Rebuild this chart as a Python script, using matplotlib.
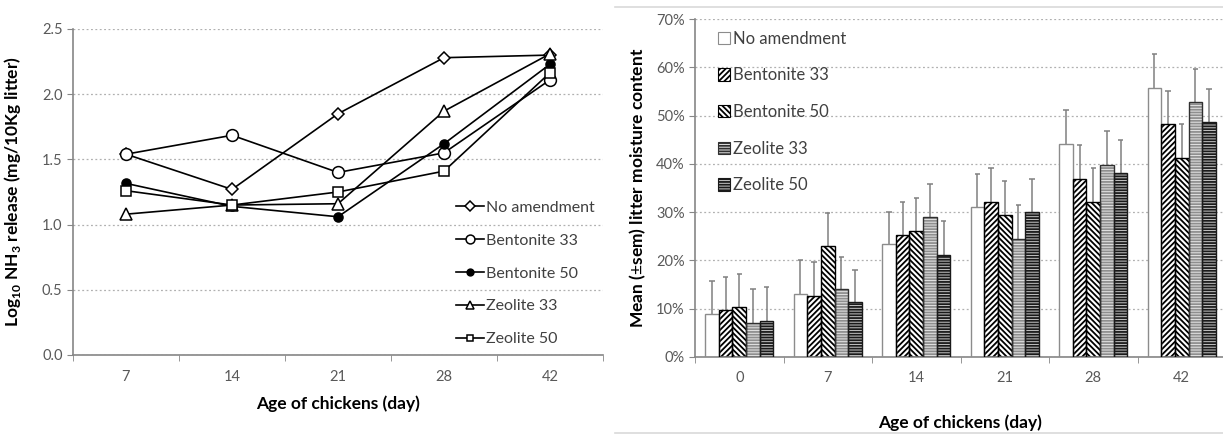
import numpy as np
import matplotlib
matplotlib.use('Agg')
import matplotlib.pyplot as plt
from matplotlib.lines import Line2D
from matplotlib.patches import Patch

plt.rcParams['font.family'] = ['Lato', 'DejaVu Sans']
plt.rcParams['mathtext.fontset'] = 'custom'
plt.rcParams['mathtext.rm'] = 'Lato'
plt.rcParams['mathtext.bf'] = 'Lato:bold'
plt.rcParams['hatch.linewidth'] = 1.3

# left panel: log10 NH3 release
days_nh3 = ['7', '14', '21', '28', '42']
nh3_none = [1.54, 1.27, 1.85, 2.28, 2.30]
nh3_bent33 = [1.54, 1.685, 1.40, 1.55, 2.11]
nh3_bent50 = [1.316, 1.14, 1.06, 1.62, 2.23]
nh3_zeo33 = [1.08, 1.15, 1.16, 1.87, 2.31]
nh3_zeo50 = [1.26, 1.15, 1.25, 1.41, 2.165]

# right panel: litter moisture (%), mean and sem
days_moist = ['0', '7', '14', '21', '28', '42']
moist_none = [9.0, 13.0, 23.3, 31.1, 44.1, 55.7]
moist_bent33 = [9.7, 12.6, 25.3, 32.1, 36.8, 48.2]
moist_bent50 = [10.3, 23.0, 26.1, 29.5, 32.1, 41.3]
moist_zeo33 = [7.1, 14.0, 28.9, 24.5, 39.8, 52.8]
moist_zeo50 = [7.5, 11.3, 21.2, 30.0, 38.1, 48.7]
sem_none = [6.8, 7.0, 6.8, 6.9, 7.1, 7.0]
sem_bent33 = [6.8, 7.0, 6.9, 7.0, 7.1, 6.8]
sem_bent50 = [6.9, 6.9, 6.8, 6.9, 7.0, 6.9]
sem_zeo33 = [6.9, 6.7, 7.0, 6.9, 7.0, 6.9]
sem_zeo50 = [7.0, 6.8, 6.9, 6.8, 6.9, 6.9]

labels = ['No amendment', 'Bentonite 33', 'Bentonite 50', 'Zeolite 33', 'Zeolite 50']

AXC = '#868686'
TICKC = '#595959'

fig = plt.figure(figsize=(12.23, 4.34), dpi=100)

# ---------------- left
ax1 = fig.add_axes([73/1223, 1-355/434, 530/1223, 326/434])
x = np.arange(len(days_nh3))
styles = [
    dict(marker='D', ms=6.5, mfc='white'),
    dict(marker='o', ms=8.5, mfc='white'),
    dict(marker='o', ms=6.5, mfc='black'),
    dict(marker='^', ms=8, mfc='white'),
    dict(marker='s', ms=6.5, mfc='white'),
]
series = [nh3_none, nh3_bent33, nh3_bent50, nh3_zeo33, nh3_zeo50]
for s, st, lab in zip(series, styles, labels):
    ax1.plot(x, s, color='black', lw=1.2, mec='black', mew=1.1, label=lab, **st)

ax1.set_xlim(-0.5, len(days_nh3) - 0.5)
ax1.set_ylim(0, 2.5)
ax1.set_yticks(np.arange(0, 2.51, 0.5))
ax1.set_yticklabels(['%.1f' % v for v in np.arange(0, 2.51, 0.5)])
ax1.set_xticks(x)
ax1.set_xticklabels(days_nh3)
ax1.set_xticks(np.arange(-0.5, len(days_nh3)), minor=True)
ax1.tick_params(axis='x', which='major', length=0, pad=11)
ax1.tick_params(axis='x', which='minor', length=4, color=AXC, direction='out')
ax1.tick_params(axis='y', length=4, color=AXC, labelcolor=TICKC, labelsize=10.5)
ax1.tick_params(axis='x', labelcolor=TICKC, labelsize=10.5)
ax1.yaxis.grid(True, ls=(0, (1.5, 2)), color='#b0b0b0', lw=0.9)
ax1.set_axisbelow(True)
for sp in ['top', 'right']:
    ax1.spines[sp].set_visible(False)
for sp in ['left', 'bottom']:
    ax1.spines[sp].set_color(AXC)
    ax1.spines[sp].set_linewidth(1.2)
ax1.set_xlabel('Age of chickens (day)', fontsize=12.5, fontweight='bold', labelpad=8)
ax1.set_ylabel(r'Log$_{\mathbf{10}}$ NH$_{\mathbf{3}}$ release (mg/10Kg litter)',
               fontsize=12.5, fontweight='bold', labelpad=14)
ax1.legend(loc='center left', bbox_to_anchor=(0.695, 0.25), frameon=False,
           fontsize=11.5, labelspacing=1.17, handlelength=1.8, handletextpad=0.1,
           markerscale=0.75, labelcolor='#404040')

# ---------------- right
ax2 = fig.add_axes([695/1223, 1-357/434, 531/1223, 338/434])
xm = np.arange(len(days_moist))
w = 0.154
means = [moist_none, moist_bent33, moist_bent50, moist_zeo33, moist_zeo50]
sems = [sem_none, sem_bent33, sem_bent50, sem_zeo33, sem_zeo50]
fills = [
    dict(fc='white', hatch=None, hc='#8c8c8c', ec='#8c8c8c'),
    dict(fc='white', hatch='//////', hc='black', ec='black'),
    dict(fc='white', hatch='\\\\\\\\\\\\', hc='black', ec='black'),
    dict(fc='#e6e6e6', hatch='------', hc='#8f8f8f', ec='#303030'),
    dict(fc='#c8c8c8', hatch='------', hc='#1a1a1a', ec='#1a1a1a'),
]
handles = []
for i, (m, e, f) in enumerate(zip(means, sems, fills)):
    pos = xm + (i - 2) * w
    ax2.bar(pos, m, w, color=f['fc'], hatch=f['hatch'], edgecolor=f['hc'], lw=0, zorder=2)
    ax2.bar(pos, m, w, fill=False, edgecolor=f['ec'], lw=1.0, zorder=3)
    top = np.array(m) + np.array(e)
    ax2.vlines(pos, m, top, color='#808080', lw=1.1, zorder=1)
    ax2.hlines(top, pos - 0.03, pos + 0.03, color='#808080', lw=1.1, zorder=1)
    handles.append(Patch(facecolor=f['fc'], hatch=f['hatch'], edgecolor=f['ec'], lw=0.8))

ax2.set_xlim(-0.5, len(days_moist) - 0.5)
ax2.set_ylim(0, 70)
ax2.set_yticks(np.arange(0, 71, 10))
ax2.set_yticklabels(['%d%%' % v for v in range(0, 71, 10)])
ax2.set_xticks(xm)
ax2.set_xticklabels(days_moist)
ax2.set_xticks(np.arange(-0.5, len(days_moist)), minor=True)
ax2.tick_params(axis='x', which='major', length=0, pad=10)
ax2.tick_params(axis='x', which='minor', length=4, color=AXC, direction='out')
ax2.tick_params(axis='y', length=4, color=AXC, labelcolor=TICKC, labelsize=10.5)
ax2.tick_params(axis='x', labelcolor=TICKC, labelsize=10.5)
ax2.yaxis.grid(True, ls=(0, (1.5, 2)), color='#b0b0b0', lw=0.9)
ax2.set_axisbelow(True)
for sp in ['top', 'right']:
    ax2.spines[sp].set_visible(False)
for sp in ['left', 'bottom']:
    ax2.spines[sp].set_color(AXC)
    ax2.spines[sp].set_linewidth(1.2)
ax2.set_xlabel('Age of chickens (day)', fontsize=12.5, fontweight='bold', labelpad=21)
ax2.set_ylabel(r'Mean ($\pm$sem) litter moisture content', fontsize=12.5,
               fontweight='bold', labelpad=6)
ax2.legend(handles, labels, loc='upper left', bbox_to_anchor=(0.015, 1.01), frameon=False,
           fontsize=12, labelspacing=1.24, handlelength=0.75, handleheight=0.75,
           handletextpad=0.15, labelcolor='#404040')

# light frame of the right panel
fig.add_artist(Line2D([615/1223, 1], [1-7/434, 1-7/434], color='#d9d9d9', lw=1.2))
fig.add_artist(Line2D([615/1223, 1], [1.5/434, 1.5/434], color='#d9d9d9', lw=1.2))

fig.savefig('out.png', dpi=100)
